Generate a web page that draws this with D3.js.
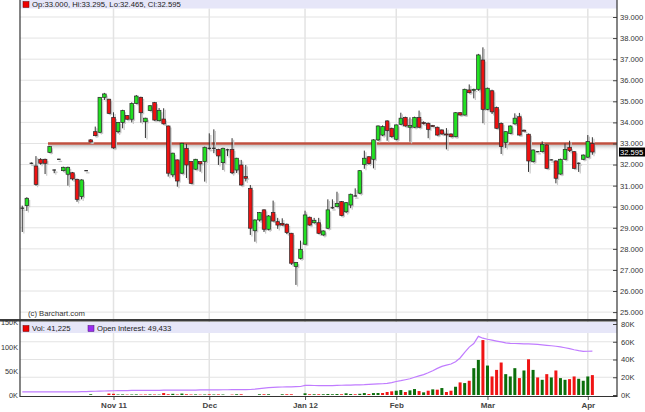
<!DOCTYPE html>
<html><head><meta charset="utf-8">
<script src="https://cdn.jsdelivr.net/npm/d3@7"></script>
<style>
body{margin:0;background:#fff;}
svg text{font-family:"Liberation Sans",Arial,sans-serif;}
</style></head>
<body><svg id="c" width="645" height="412"></svg>
<script>
// ---- DATA ----
const dates = [
"2011-10-04","2011-10-05","2011-10-06","2011-10-07","2011-10-10","2011-10-11","2011-10-12","2011-10-13","2011-10-14","2011-10-17",
"2011-10-18","2011-10-19","2011-10-20","2011-10-21","2011-10-24","2011-10-25","2011-10-26","2011-10-27","2011-10-28","2011-10-31",
"2011-11-01","2011-11-02","2011-11-03","2011-11-04","2011-11-07","2011-11-08","2011-11-09","2011-11-10","2011-11-11","2011-11-14",
"2011-11-15","2011-11-16","2011-11-17","2011-11-18","2011-11-21","2011-11-22","2011-11-23","2011-11-25","2011-11-28","2011-11-29",
"2011-11-30","2011-12-01","2011-12-02","2011-12-05","2011-12-06","2011-12-07","2011-12-08","2011-12-09","2011-12-12","2011-12-13",
"2011-12-14","2011-12-15","2011-12-16","2011-12-19","2011-12-20","2011-12-21","2011-12-22","2011-12-23","2011-12-27","2011-12-28",
"2011-12-29","2011-12-30","2012-01-03","2012-01-04","2012-01-05","2012-01-06","2012-01-09","2012-01-10","2012-01-11","2012-01-12",
"2012-01-13","2012-01-17","2012-01-18","2012-01-19","2012-01-20","2012-01-23","2012-01-24","2012-01-25","2012-01-26","2012-01-27",
"2012-01-30","2012-01-31","2012-02-01","2012-02-02","2012-02-03","2012-02-06","2012-02-07","2012-02-08","2012-02-09","2012-02-10",
"2012-02-13","2012-02-14","2012-02-15","2012-02-16","2012-02-17","2012-02-21","2012-02-22","2012-02-23","2012-02-24","2012-02-27",
"2012-02-28","2012-02-29","2012-03-01","2012-03-02","2012-03-05","2012-03-06","2012-03-07","2012-03-08","2012-03-09","2012-03-12",
"2012-03-13","2012-03-14","2012-03-15","2012-03-16","2012-03-19","2012-03-20","2012-03-21","2012-03-22","2012-03-23","2012-03-26",
"2012-03-27","2012-03-28","2012-03-29","2012-03-30","2012-04-02","2012-04-03"];

const open = [29.93,30.05,32.06,31.93,32.25,32.25,32.58,31.74,32.25,31.71,31.54,31.61,31.30,30.48,31.71,33.17,33.56,33.53,35.19,35.10,
34.24,33.56,34.00,34.32,34.15,34.90,35.19,34.03,34.56,34.94,34.08,34.16,33.83,31.51,32.22,31.59,32.77,32.14,31.78,32.14,
32.14,32.77,32.77,32.72,32.09,32.72,32.72,31.74,31.98,31.43,30.87,28.86,29.37,29.85,28.93,29.72,29.29,29.21,29.17,28.74,
27.16,27.55,28.22,29.50,29.24,29.24,28.66,28.98,29.95,30.00,30.24,29.76,30.08,30.51,30.64,32.01,32.37,32.25,33.17,33.40,
34.07,33.72,33.20,33.91,34.24,33.77,33.77,34.24,33.99,33.96,33.85,33.77,33.64,33.45,33.45,33.32,34.46,34.35,35.54,35.55,
35.57,36.96,34.62,35.50,34.70,33.95,33.04,33.48,33.93,34.27,33.63,33.44,32.14,32.61,32.61,32.93,32.22,32.17,31.55,32.25,
32.82,32.61,32.08,32.25,32.35,33.000];
const high = [30.05,30.45,32.10,32.40,32.30,32.28,32.88,31.76,32.27,31.90,31.90,31.65,31.33,31.30,31.73,33.20,33.80,35.20,35.40,35.12,
34.48,34.02,34.60,34.35,34.95,35.30,35.22,34.22,34.82,34.97,34.68,34.67,33.85,32.56,32.24,33.03,32.98,32.16,32.27,32.16,
32.85,33.48,33.67,32.75,32.80,32.75,33.25,32.32,32.22,31.98,31.03,29.40,29.75,29.88,29.60,30.29,29.47,29.45,29.20,28.76,
27.38,28.39,29.81,29.53,29.47,29.47,28.88,30.35,30.35,30.71,30.27,30.22,30.62,30.87,31.74,32.66,32.40,33.20,33.86,33.86,
34.10,33.75,33.90,34.46,34.27,34.24,34.27,34.56,34.05,33.99,33.88,33.80,33.67,33.73,33.48,34.48,34.48,35.60,35.80,35.60,
37.25,37.56,35.65,35.55,34.75,34.00,33.58,33.86,34.43,34.45,33.66,33.47,32.72,32.64,33.10,32.96,32.25,32.20,32.28,33.00,
33.13,32.64,32.10,32.48,33.40,33.295];
const low = [28.80,29.80,32.02,31.00,32.00,31.55,32.55,31.59,32.23,31.68,31.00,31.25,30.23,30.35,31.69,33.05,33.35,33.50,35.06,34.40,
32.75,33.48,33.72,34.12,34.00,34.88,33.99,33.26,34.54,34.08,34.05,33.90,31.43,31.40,30.95,31.55,31.36,31.08,31.75,31.66,
31.19,32.70,32.54,31.98,31.74,32.40,31.55,31.60,31.00,31.20,28.66,28.34,29.30,28.80,28.88,29.30,28.95,29.10,28.70,27.24,
26.29,27.50,28.20,29.10,29.20,28.70,28.62,28.95,29.90,29.98,29.55,29.70,29.93,30.48,30.60,31.80,32.00,31.82,33.12,33.35,
33.13,33.28,33.15,33.88,33.80,33.08,33.74,33.74,33.90,33.25,33.80,33.37,33.42,32.72,33.30,33.30,34.33,34.33,35.38,35.14,
35.50,33.96,34.58,34.40,33.70,32.50,32.79,33.45,33.90,33.38,33.58,31.65,32.10,32.58,32.58,31.80,32.20,31.11,31.52,32.22,
32.60,31.80,31.65,32.22,32.32,32.465];
const close = [29.93,30.40,32.06,31.06,32.06,32.06,32.85,31.74,32.25,31.87,31.87,31.32,30.35,31.27,31.71,33.07,33.37,35.19,35.35,34.43,
32.79,34.00,34.56,34.15,34.90,35.25,34.46,34.20,34.79,34.11,34.56,33.93,31.59,32.54,31.22,33.01,31.98,31.11,32.25,32.03,
32.82,32.77,32.77,32.41,32.77,32.70,31.61,32.30,31.03,31.35,28.98,29.37,29.72,28.93,29.56,29.32,29.13,29.13,28.77,27.32,
27.35,27.98,29.61,29.13,29.34,28.74,28.85,29.85,29.95,30.16,29.58,30.19,30.59,30.51,31.71,32.30,32.05,33.17,33.83,33.80,
33.61,33.32,33.88,34.20,33.83,33.85,34.24,33.77,33.95,33.67,33.81,33.40,33.45,33.43,33.32,34.46,34.35,35.57,35.41,35.57,
37.20,34.62,35.62,34.50,33.72,32.85,33.56,33.83,34.20,33.40,33.61,32.17,32.69,32.61,32.96,31.82,32.22,31.35,32.25,32.72,
32.66,31.82,32.06,32.45,33.09,32.595];
const volume = [0,0,0,0,0,0,0,0,0,0,0,0,0,0,0,1500,0,0,0,3000,
2500,1000,1200,800,1000,1200,800,1000,1200,1000,800,4000,1500,2500,1000,3000,1500,1000,1200,800,
1000,1500,1000,1200,1000,0,800,1500,1500,0,0,0,1500,1500,1500,0,0,1500,1500,1500,
0,0,3500,1500,1500,1500,1500,2000,1500,2000,1500,3500,2000,1500,2500,4000,2000,4000,4100,4100,
6200,7600,8900,10300,6200,9600,12300,8200,5500,8900,11700,11000,14400,6200,8900,17100,26100,24700,29500,55600,
72700,113800,61000,38400,52000,67300,43200,38400,55600,35000,50800,74000,52000,36400,31500,43200,36400,50800,35000,31500,
32900,38400,33600,29500,38400,41225];
const openInterest = [3600,3600,3600,3600,3600,3600,3600,3600,3600,3600,3600,3600,3600,3700,3800,4000,4200,4400,4500,4600,
4800,4900,5000,5000,5100,5100,5200,5200,5200,5300,5300,5400,5400,5500,5500,5500,5600,5600,5600,5700,
5700,5800,5800,5800,5900,5900,6000,6000,6000,6100,6200,6600,7200,7800,8300,8600,8800,9000,9100,9200,
9400,9600,10900,10800,10700,10600,10500,10500,10600,10800,11000,11100,11200,11300,11500,11600,11900,12200,12500,12700,
13200,14000,15200,16100,17200,18300,20000,21500,23000,25000,27400,30000,32300,33600,34900,37500,41700,48000,54000,58000,
66100,64000,62800,61800,60800,59800,58800,58200,58000,57800,57700,57500,57400,57000,56500,56000,55500,54900,54200,53200,
52200,51000,50000,49200,49300,49433];
const priceTicks = [25,26,27,28,29,30,31,32,33,34,35,36,37,38,39];
const volTicks = [0,50000,100000,150000];
const oiTicks = [0,20000,40000,60000,80000];
const monthTicks = ["2011-11-01","2011-12-01","2012-01-03","2012-02-01","2012-03-01","2012-04-02"];
const monthLabels = ["Nov 11","Dec","Jan 12","Feb","Mar","Apr"];
const resistance = 33.0;
const legendText = "Op:33.000, Hi:33.295, Lo:32.465, Cl:32.595";
const lastClose = "32.595";

// ---- LAYOUT ----
const L = 20, R = 617;
const FONT = "Liberation Sans, Arial, sans-serif";
const svg = d3.select("#c");
const x = d3.scaleLinear().domain([-0.5, 130.4]).range([L, R]);
const y = d3.scaleLinear().domain([25, 39]).range([312.1, 17]);
const yV = d3.scaleLinear().domain([0, 150000]).range([395, 322.6]);
const yOI = d3.scaleLinear().domain([0, 80000]).range([395, 324]);
const idx = d => dates.indexOf(d);

const defs = svg.append("defs");
const gr = defs.append("linearGradient").attr("id","sh").attr("x1",0).attr("x2",0).attr("y1",0).attr("y2",1);
gr.append("stop").attr("offset","0%").attr("stop-color","#b8b8b8");
gr.append("stop").attr("offset","100%").attr("stop-color","#ffffff").attr("stop-opacity",0);

// horizontal grid price
svg.append("g").selectAll("line").data(priceTicks).join("line")
  .attr("x1",L).attr("x2",R).attr("y1",d=>y(d)).attr("y2",d=>y(d))
  .attr("stroke","#e3e3e3").attr("stroke-width",1);
// vertical grid
svg.append("g").selectAll("line").data(monthTicks).join("line")
  .attr("x1",d=>x(idx(d))).attr("x2",d=>x(idx(d))).attr("y1",8.5).attr("y2",396)
  .attr("stroke","#e3e3e3").attr("stroke-width",1.5);
// top legend band
svg.append("rect").attr("x",L).attr("y",0).attr("width",R-L).attr("height",8.5).attr("fill","#e6e6f8");

// volume panel grid
svg.append("g").selectAll("line").data(oiTicks.slice(1,4)).join("line")
  .attr("x1",L).attr("x2",R).attr("y1",d=>yOI(d)).attr("y2",d=>yOI(d))
  .attr("stroke","#e3e3e3");

// resistance line with soft shadow
svg.append("rect").attr("x",48).attr("y",y(resistance)+1).attr("width",R-48).attr("height",7).attr("fill","url(#sh)");
svg.append("line").attr("x1",48).attr("x2",R).attr("y1",y(resistance)).attr("y2",y(resistance))
  .attr("stroke","#c0503f").attr("stroke-width",2.6);

// candles
const cw = 3.6, so = 1.6;
const data = dates.map((d,i)=>({i, o:open[i], h:high[i], l:low[i], c:close[i]}));
const cg = svg.append("g");
cg.selectAll(".sw").data(data).join("line").attr("class","sw")
  .attr("x1",d=>x(d.i)+so).attr("x2",d=>x(d.i)+so).attr("y1",d=>y(d.h)+so).attr("y2",d=>y(d.l)+so)
  .attr("stroke","#c9c9c9").attr("stroke-width",1.2);
cg.selectAll(".sb").data(data).join("rect").attr("class","sb")
  .attr("x",d=>x(d.i)-cw/2+so).attr("y",d=>y(Math.max(d.o,d.c))+so)
  .attr("width",cw).attr("height",d=>Math.max(Math.abs(y(d.o)-y(d.c)),1.2))
  .attr("fill","#c9c9c9");
cg.selectAll(".w").data(data).join("line").attr("class","w")
  .attr("x1",d=>x(d.i)).attr("x2",d=>x(d.i)).attr("y1",d=>y(d.h)).attr("y2",d=>y(d.l))
  .attr("stroke","#333").attr("stroke-width",1);
cg.selectAll(".b").data(data.filter(d=>Math.abs(d.o-d.c)>0.02)).join("rect").attr("class","b")
  .attr("x",d=>x(d.i)-cw/2).attr("y",d=>y(Math.max(d.o,d.c)))
  .attr("width",cw).attr("height",d=>Math.max(Math.abs(y(d.o)-y(d.c)),1))
  .attr("fill",d=>d.c>d.o?"#22e022":"#ee1111").attr("stroke","#2a2a2a").attr("stroke-width",0.7);
cg.selectAll(".dj").data(data.filter(d=>Math.abs(d.o-d.c)<=0.02)).join("line").attr("class","dj")
  .attr("x1",d=>x(d.i)-cw/2).attr("x2",d=>x(d.i)+cw/2).attr("y1",d=>y(d.c)).attr("y2",d=>y(d.c))
  .attr("stroke","#2a2a2a").attr("stroke-width",1.2);

// price axis (right)
const ax = svg.append("g").attr("transform",`translate(${R},0)`)
  .call(d3.axisRight(y).tickValues(priceTicks).tickFormat(d3.format(".3f")).tickSize(-4).tickPadding(3));
ax.select(".domain").remove();
ax.selectAll("line").attr("stroke","#444");
ax.selectAll("text").attr("font-size","7.6px").attr("fill","#333").attr("font-family",FONT);

// last price box
svg.append("rect").attr("x",R+2).attr("y",y(32.595)-4.5).attr("width",26).attr("height",9).attr("fill","#000");
svg.append("text").attr("x",R+3).attr("y",y(32.595)+3).attr("font-size","7.6px").attr("fill","#fff").text(lastClose);

// top legend text
svg.append("rect").attr("x",23).attr("y",1.5).attr("width",6).attr("height",6).attr("fill","#e00").attr("stroke","#600").attr("stroke-width",0.5);
svg.append("text").attr("x",32).attr("y",7.3).attr("font-size","7.7px").attr("fill","#222").text(legendText);

svg.append("text").attr("x",28).attr("y",316).attr("font-size","7.7px").attr("fill","#333").text("(c) Barchart.com");

// ---- VOLUME PANEL ----
svg.append("rect").attr("x",L).attr("y",322).attr("width",R-L).attr("height",11).attr("fill","#e6e6f8");
svg.append("line").attr("x1",0).attr("x2",R).attr("y1",320.3).attr("y2",320.3).attr("stroke","#3c3c3c").attr("stroke-width",2.6);

const bw = 3;
svg.append("g").selectAll("rect").data(data.filter(d=>volume[d.i]>0)).join("rect")
  .attr("x",d=>x(d.i)-bw/2).attr("y",d=>yV(volume[d.i])).attr("width",bw)
  .attr("height",d=>yV(0)-yV(volume[d.i]))
  .attr("fill",d=>(d.i>0 && close[d.i]<close[d.i-1])?"#f01414":"#0b6e0b");

const oiLine = d3.line().x((d,i)=>x(i)).y(d=>yOI(d));
svg.append("path").attr("d",oiLine(openInterest)).attr("fill","none").attr("stroke","#c07cff").attr("stroke-width",1.2);

// volume legend
svg.append("rect").attr("x",23).attr("y",325.5).attr("width",6).attr("height",6).attr("fill","#e00").attr("stroke","#600").attr("stroke-width",0.5);
svg.append("text").attr("x",32).attr("y",331.3).attr("font-size","7.7px").attr("fill","#222").text("Vol: 41,225");
svg.append("rect").attr("x",88).attr("y",325.5).attr("width",6).attr("height",6).attr("fill","#9a2cf0").attr("stroke","#4a1070").attr("stroke-width",0.5);
svg.append("text").attr("x",97).attr("y",331.3).attr("font-size","7.7px").attr("fill","#222").text("Open Interest: 49,433");

// left volume axis
const axV = svg.append("g").attr("transform",`translate(${L},0)`)
  .call(d3.axisLeft(yV).tickValues(volTicks).tickFormat(d=>(d/1000)+"K").tickSize(0).tickPadding(2));
axV.select(".domain").remove();
axV.selectAll("text").attr("font-size","7.3px").attr("fill","#333").attr("font-family",FONT);
// right OI axis
const axO = svg.append("g").attr("transform",`translate(${R},0)`)
  .call(d3.axisRight(yOI).tickValues(oiTicks).tickFormat(d=>(d/1000)+"K").tickSize(-4).tickPadding(4));
axO.select(".domain").remove();
axO.selectAll("line").attr("stroke","#444");
axO.selectAll("text").attr("font-size","7.6px").attr("fill","#333").attr("font-family",FONT);

// frame lines
svg.append("line").attr("x1",L).attr("x2",L).attr("y1",0).attr("y2",397).attr("stroke","#333").attr("stroke-width",1.2);
svg.append("line").attr("x1",R).attr("x2",R).attr("y1",0).attr("y2",397).attr("stroke","#333").attr("stroke-width",1.2);
svg.append("line").attr("x1",L).attr("x2",R).attr("y1",396.5).attr("y2",396.5).attr("stroke","#333").attr("stroke-width",1);

// x axis
const xa = svg.append("g").attr("transform","translate(0,397)")
  .call(d3.axisBottom(x).tickValues(monthTicks.map(idx)).tickFormat((d,i)=>monthLabels[i]).tickSize(3).tickPadding(2));
xa.select(".domain").remove();
xa.selectAll("line").attr("stroke","#555");
xa.selectAll("text").attr("font-size","8px").attr("font-weight","bold").attr("fill","#444").attr("font-family",FONT);
</script></body></html>
